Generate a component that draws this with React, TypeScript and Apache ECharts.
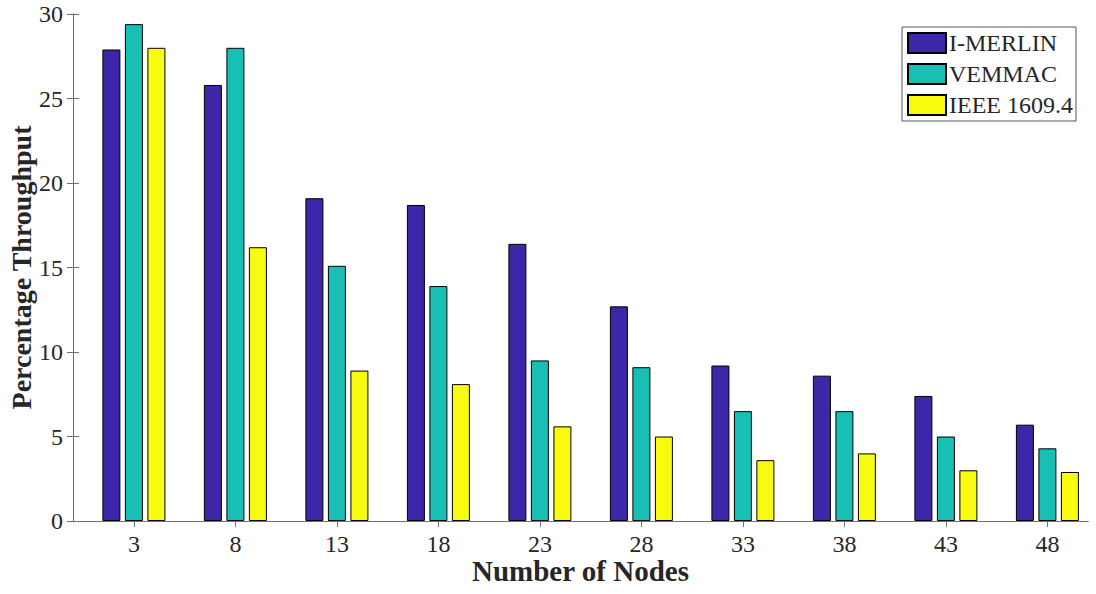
import React, { useEffect, useRef } from "react";
import * as echarts from "echarts";

// Number of nodes on the x axis
const nodes = [3, 8, 13, 18, 23, 28, 33, 38, 43, 48];

// Percentage throughput per protocol
const iMerlin = [27.9, 25.8, 19.1, 18.7, 16.4, 12.7, 9.2, 8.6, 7.4, 5.7];
const vemmac = [29.4, 28.0, 15.1, 13.9, 9.5, 9.1, 6.5, 6.5, 5.0, 4.3];
const ieee16094 = [28.0, 16.2, 8.9, 8.1, 5.6, 5.0, 3.6, 4.0, 3.0, 2.9];

const yTicks = [0, 5, 10, 15, 20, 25, 30];

const seriesDefs = [
  { name: "I-MERLIN", values: iMerlin, color: "#3E26A8" },
  { name: "VEMMAC", values: vemmac, color: "#17BFB4" },
  { name: "IEEE 1609.4", values: ieee16094, color: "#F9FB0E" },
];

const FONT = "'Liberation Serif', 'Times New Roman', serif";
const AXIS_COLOR = "#707070";
const TEXT_COLOR = "#262626";

export default function App() {
  const ref = useRef<HTMLDivElement>(null);

  useEffect(() => {
    if (!ref.current) return;
    const chart = echarts.init(ref.current, undefined, { renderer: "svg" });

    const tickStyle = {
      show: true,
      inside: true,
      length: 6,
      lineStyle: { color: AXIS_COLOR, width: 1 },
    };

    chart.setOption({
      animation: false,
      backgroundColor: "#ffffff",
      grid: {
        left: 73,
        right: 8,
        top: 14,
        bottom: 73,
        containLabel: false,
        outerBoundsMode: "none",
      },
      legend: {
        right: 20,
        top: 27,
        orient: "vertical",
        itemWidth: 38,
        itemHeight: 20,
        itemGap: 7,
        padding: [4, 3, 4, 5],
        borderColor: "#555555",
        borderWidth: 1,
        backgroundColor: "#ffffff",
        icon: "rect",
        textStyle: {
          fontFamily: FONT,
          fontSize: 24,
          lineHeight: 20,
          color: TEXT_COLOR,
          padding: [0, 0, 0, -2],
        },
        data: seriesDefs.map((s) => s.name),
      },
      xAxis: [
        {
          type: "value",
          min: 0,
          max: 50,
          position: "bottom",
          name: "Number of Nodes",
          nameLocation: "middle",
          nameGap: 35,
          nameMoveOverlap: false,
          nameTextStyle: {
            fontFamily: FONT,
            fontSize: 29,
            fontWeight: "bold",
            color: TEXT_COLOR,
          },
          axisLine: { show: true, lineStyle: { color: AXIS_COLOR, width: 1 } },
          axisTick: { ...tickStyle, customValues: nodes },
          axisLabel: {
            customValues: nodes,
            fontFamily: FONT,
            fontSize: 24,
            color: TEXT_COLOR,
            margin: 11,
          },
          splitLine: { show: false },
        },
        {
          type: "value",
          min: 0,
          max: 50,
          position: "top",
          axisLine: { show: true, lineStyle: { color: AXIS_COLOR, width: 1 } },
          axisTick: { ...tickStyle, customValues: nodes },
          axisLabel: { show: false },
          splitLine: { show: false },
        },
      ],
      yAxis: [
        {
          type: "value",
          min: 0,
          max: 30,
          interval: 5,
          position: "left",
          name: "Percentage Throughput",
          nameLocation: "middle",
          nameGap: 38,
          nameMoveOverlap: false,
          nameTextStyle: {
            fontFamily: FONT,
            fontSize: 28,
            fontWeight: "bold",
            color: TEXT_COLOR,
          },
          axisLine: { show: true, lineStyle: { color: AXIS_COLOR, width: 1 } },
          axisTick: { ...tickStyle, customValues: yTicks },
          axisLabel: {
            customValues: yTicks,
            fontFamily: FONT,
            fontSize: 24,
            color: TEXT_COLOR,
            margin: 10,
          },
          splitLine: { show: false },
        },
        {
          type: "value",
          min: 0,
          max: 30,
          interval: 5,
          position: "right",
          axisLine: { show: true, lineStyle: { color: AXIS_COLOR, width: 1 } },
          axisTick: { ...tickStyle },
          axisLabel: { show: false },
          splitLine: { show: false },
        },
      ],
      series: seriesDefs.map((s) => ({
        name: s.name,
        type: "bar",
        xAxisIndex: 0,
        yAxisIndex: 0,
        barWidth: 18,
        barGap: "25%",
        itemStyle: { color: s.color, borderColor: "#000000", borderWidth: 1 },
        data: nodes.map((n, i) => [n, s.values[i]]),
      })),
    });

    return () => chart.dispose();
  }, []);

  return (
    <div
      ref={ref}
      style={{ position: "fixed", left: 0, top: 0, width: 1096, height: 594 }}
    />
  );
}
